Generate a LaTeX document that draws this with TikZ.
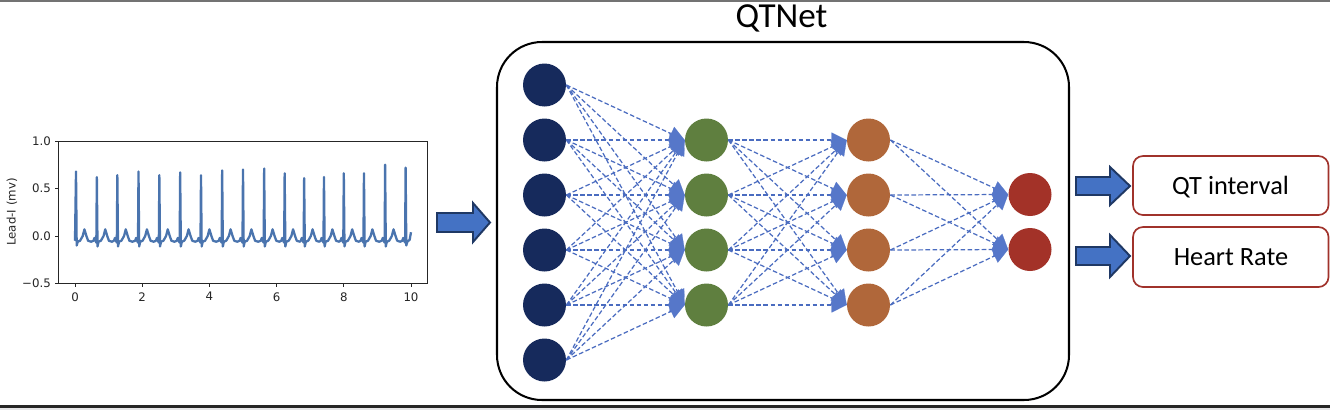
\documentclass[tikz,border=0pt]{standalone}
\usepackage{fontspec}
\setmainfont{Carlito}
\newfontfamily\mplfont{DejaVu Sans}
\usetikzlibrary{arrows.meta}
\definecolor{navy}{HTML}{162A5C}
\definecolor{leaf}{HTML}{5F7F3F}
\definecolor{rust}{HTML}{B0673A}
\definecolor{brick}{HTML}{A33228}
\definecolor{wire}{HTML}{4A6CC0}
\definecolor{tipblue}{HTML}{5677C9}
\definecolor{ecgblue}{HTML}{4A74AE}
\definecolor{blockfill}{HTML}{4472C4}
\definecolor{blockedge}{HTML}{1F3864}
\definecolor{outedge}{HTML}{A0322B}
\begin{document}
\begin{tikzpicture}[x=0.02cm,y=-0.02cm,
  neuron/.style={circle,minimum size=0.86cm,inner sep=0pt,draw=none},
  conn/.style={draw=wire,line width=0.7pt,dash pattern=on 2.6pt off 1.4pt,
     -{Triangle[length=0.3cm,width=0.3cm,color=tipblue,fill=tipblue,line width=0.1pt]}},
  blockarrow/.style={fill=blockfill,draw=blockedge,line width=1.1pt,line join=miter},
  outbox/.style={draw=outedge,line width=0.95pt,rounded corners=0.2cm,fill=white},
  axisline/.style={draw=black!85,line width=0.55pt},
  ticklab/.style={font=\mplfont\fontsize{6.7}{8}\selectfont,inner sep=0pt,text=black!85},
  ecg/.style={draw=ecgblue,line width=1.3pt,line join=round}]
\useasboundingbox (0,0) rectangle (1330,410);
\fill[white] (0,0) rectangle (1330,410);
% frame lines
\fill[black!55] (0,0) rectangle (1330,1.5);
\fill[black!85] (0,405) rectangle (1330,408);
\fill[blue!6!black!10] (0,408) rectangle (1330,410);

% ---------------- ECG plot ----------------
\node[ticklab,rotate=90] (ylab) at (12,212) {Lead-I (mv)};
\begin{scope}[shift={(75,236)},xscale=33.6,yscale=-95]
  \draw[axisline] (-0.5,-0.5) rectangle (10.5,1.0);
  \foreach \t in {0,2,4,6,8,10}{
    \draw[axisline] (\t,-0.5) -- ++(0,-0.037);
    \node[ticklab,anchor=north] (xt\t) at (\t,-0.59) {\t};
  }
  \foreach \v/\lab [count=\k] in {-0.5/−0.5,0/0.0,0.5/0.5,1.0/1.0}{
    \draw[axisline] (-0.5,\v) -- ++(-0.104,0);
    \node[ticklab,anchor=east] (yt\k) at (-0.71,\v) {\lab};
  }
  \draw[ecg] (0,-0.05) -- (0.03,0.68) -- (0.05,-0.10) -- (0.08,-0.06) -- (0.15,-0.05)
     -- (0.23,0.0) -- (0.28,0.07) -- (0.34,0.0) -- (0.39,-0.05) -- (0.48,-0.06)
     \foreach \t/\h in {0.65/0.62,1.26/0.64,1.89/0.68,2.51/0.64,3.13/0.67,3.75/0.64,
        4.38/0.69,5.0/0.70,5.63/0.71,6.24/0.66,6.82/0.61,7.41/0.62,8.0/0.66,8.6/0.66,9.23/0.75}{
       -- ({\t-0.10},-0.05) -- ({\t-0.07},-0.02) -- ({\t-0.04},-0.05) -- ({\t-0.015},-0.07)
       -- (\t,\h) -- ({\t+0.02},-0.11) -- ({\t+0.05},-0.06) -- ({\t+0.12},-0.05)
       -- ({\t+0.20},0.0) -- ({\t+0.25},0.07) -- ({\t+0.31},0.0) -- ({\t+0.36},-0.05)
       -- ({\t+0.45},-0.06)
     }
     -- (9.74,-0.05) -- (9.77,-0.02) -- (9.80,-0.05) -- (9.825,-0.07) -- (9.84,0.72)
     -- (9.86,-0.10) -- (9.89,-0.06) -- (9.96,-0.04) -- (10.0,0.04);
\end{scope}

% input block arrow
\draw[blockarrow] (437,213) -- (473,213) -- (473,203) -- (490,222.5) -- (473,242)
   -- (473,232) -- (437,232) -- cycle;

% ---------------- network ----------------
\node[font=\fontsize{20}{24}\selectfont,anchor=base,inner sep=0pt] (title) at (781.5,27) {QTNet};
\draw[line width=1.15pt,rounded corners=0.9cm] (497,42) rectangle (1069,400);

\foreach \y [count=\i] in {85,140,195,250,305,360}
  \node[neuron,fill=navy] (a\i) at (544.5,\y) {};
\foreach \y [count=\i] in {140,195,250,305}
  \node[neuron,fill=leaf] (b\i) at (706.5,\y) {};
\foreach \y [count=\i] in {140,195,250,305}
  \node[neuron,fill=rust] (c\i) at (868.5,\y) {};
\foreach \y [count=\i] in {194.5,249.5}
  \node[neuron,fill=brick] (d\i) at (1030,\y) {};

\foreach \i in {1,...,6}
  \foreach \j in {1,...,4}
    \draw[conn] (a\i.east) -- (b\j.west);
\foreach \i in {1,...,4}
  \foreach \j in {1,...,4}
    \draw[conn] (b\i.east) -- (c\j.west);
\foreach \i in {1,...,4}
  \foreach \j in {1,2}
    \draw[conn] (c\i.east) -- (d\j.west);

% ---------------- outputs ----------------
\draw[blockarrow] (1076,177) -- (1110,177) -- (1110,167) -- (1130,186) -- (1110,205)
   -- (1110,195) -- (1076,195) -- cycle;
\draw[blockarrow] (1076,247) -- (1110,247) -- (1110,235) -- (1130,256) -- (1110,277)
   -- (1110,265) -- (1076,265) -- cycle;
\draw[outbox] (1133,156) rectangle (1328.5,215);
\draw[outbox] (1133,227) rectangle (1328.5,287);
\node[font=\fontsize{15}{18}\selectfont,anchor=base,inner sep=0pt] (qt) at (1230.5,194) {QT interval};
\node[font=\fontsize{15}{18}\selectfont,anchor=base,inner sep=0pt] (hr) at (1231,265) {Heart Rate};
\end{tikzpicture}
\end{document}
